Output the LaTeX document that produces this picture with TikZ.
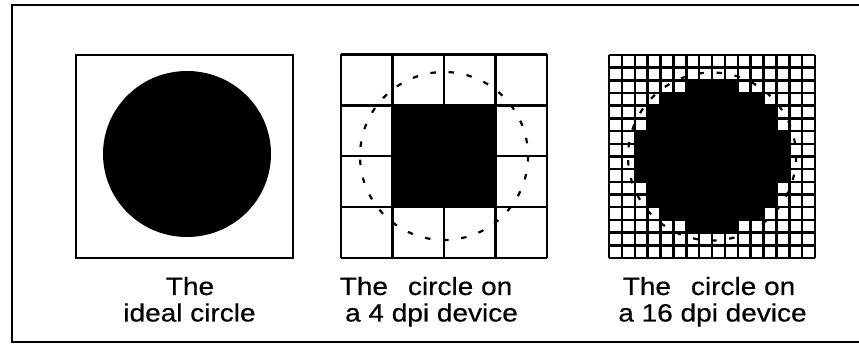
\documentclass[tikz,border=0pt]{standalone}
\usepackage{fontspec}
\newfontfamily\labfont[FakeStretch=1.12,FakeBold=0.5]{Liberation Sans}
\begin{document}
\begin{tikzpicture}[x=1pt,y=-1pt,
  lab/.style={font=\labfont\fontsize{25}{30}\selectfont, anchor=base, inner sep=0pt},
  frameline/.style={line width=2pt},
  boxline/.style={draw, line width=2.2pt},
  gridA/.style={line width=2.4pt},
  gridB/.style={line width=2.5pt},
  dots/.style={line width=2.2pt, dash pattern=on 5.5pt off 12.7pt}]
\useasboundingbox (0,0) rectangle (859,344);
% outer frame (right side cropped)
\draw[frameline] (859,5) -- (12,5) -- (12,342.5) -- (859,342.5);

% panel 1: ideal circle
\draw[boxline] (76,55) rectangle (293,258);
\fill (187,154) ellipse [x radius=84, y radius=83];

% panel 2: 4 dpi
\fill (392.5,105.4) rectangle (495.5,207.1);
\foreach \i in {0,...,4} {
  \draw[gridA] (341+51.5*\i,54.5) -- (341+51.5*\i,258);
  \draw[gridA] (341,54.5+50.875*\i) -- (547,54.5+50.875*\i);
}
\draw[dots] (444,156) circle [radius=84];

% panel 3: 16 dpi
\foreach \r/\a/\b in {2/6/9,13/6/9,3/4/11,12/4/11,4/3/12,5/3/12,10/3/12,11/3/12,6/2/13,7/2/13,8/2/13,9/2/13}
  \fill (609+12.875*\a,55+12.6875*\r) rectangle (609+12.875*\b+12.875,55+12.6875*\r+12.6875);
\foreach \i in {0,...,16} {
  \draw[gridB] (609+12.875*\i,55) -- (609+12.875*\i,258);
  \draw[gridB] (609,55+12.6875*\i) -- (815,55+12.6875*\i);
}
\draw[dots] (712,156.5) circle [radius=84];

% labels
\node[lab] (t1a) at (190,295) {The};
\node[lab] (t1b) at (189.5,321.5) {ideal circle};
\node[lab] (t2a) at (426,295) {The\hspace{20pt}circle on};
\node[lab] (t2b) at (431.5,321.5) {a 4 dpi device};
\node[lab] (t3a) at (709,295) {The\hspace{20pt}circle on};
\node[lab] (t3b) at (712.5,321.5) {a 16 dpi device};
\end{tikzpicture}
\end{document}
